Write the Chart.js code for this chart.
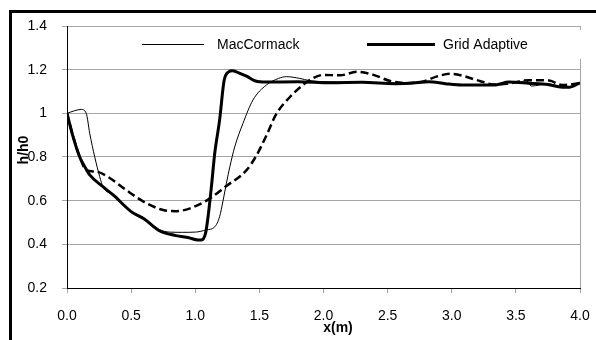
<!DOCTYPE html>
<html>
<head>
<meta charset="utf-8">
<script src="https://cdn.jsdelivr.net/npm/chart.js@4/dist/chart.umd.min.js"></script>
<style>
  html, body { margin: 0; background: #fff; }
</style>
</head>
<body>
<canvas id="chart" width="596" height="340"></canvas>
<script>
const seriesNames = ["MacCormack", "Grid Adaptive"];

const macX = [0, 0.06, 0.11, 0.15, 0.177, 0.216, 0.255, 0.28, 0.36, 0.5, 0.6, 0.72, 0.8, 0.9, 1.0, 1.087, 1.152, 1.19, 1.217, 1.243, 1.27, 1.308, 1.372, 1.45, 1.555, 1.65, 1.71, 1.815, 1.89, 2.0, 2.3, 2.56, 2.72, 2.82, 2.95, 3.08, 3.34, 3.45, 3.53, 3.58, 3.62, 3.75, 3.89, 4.0];
const macY = [1.0, 1.012, 1.018, 1.0, 0.909, 0.801, 0.71, 0.664, 0.626, 0.552, 0.52, 0.468, 0.456, 0.455, 0.456, 0.466, 0.48, 0.527, 0.6, 0.68, 0.756, 0.847, 0.954, 1.061, 1.13, 1.16, 1.168, 1.16, 1.15, 1.145, 1.142, 1.138, 1.142, 1.146, 1.137, 1.132, 1.13, 1.145, 1.142, 1.152, 1.125, 1.135, 1.118, 1.138];

const gridX = [0, 0.047, 0.099, 0.138, 0.177, 0.28, 0.36, 0.5, 0.6, 0.72, 0.85, 0.95, 1.02, 1.048, 1.08, 1.1, 1.126, 1.152, 1.19, 1.225, 1.26, 1.29, 1.33, 1.4, 1.47, 1.55, 1.8, 2.05, 2.3, 2.56, 2.72, 2.82, 2.95, 3.08, 3.34, 3.445, 3.6, 3.75, 3.86, 3.92, 4.0];
const gridY = [1.0, 0.893, 0.8, 0.756, 0.718, 0.664, 0.626, 0.55, 0.517, 0.462, 0.44, 0.43, 0.42, 0.42, 0.45, 0.527, 0.664, 0.817, 0.97, 1.15, 1.19, 1.195, 1.188, 1.17, 1.148, 1.143, 1.145, 1.14, 1.142, 1.136, 1.14, 1.145, 1.136, 1.13, 1.13, 1.143, 1.138, 1.132, 1.12, 1.12, 1.14];

// third curve (dashed), not in the legend
const dashX = [0, 0.05, 0.1, 0.15, 0.23, 0.33, 0.46, 0.62, 0.75, 0.85, 0.96, 1.1, 1.24, 1.4, 1.48, 1.56, 1.63, 1.74, 1.84, 1.92, 2.0, 2.13, 2.26, 2.39, 2.52, 2.65, 2.78, 2.88, 2.99, 3.1, 3.19, 3.34, 3.48, 3.6, 3.76, 3.86, 4.0];
const dashY = [1.0, 0.89, 0.8, 0.74, 0.733, 0.705, 0.649, 0.588, 0.557, 0.552, 0.565, 0.605, 0.666, 0.74, 0.81, 0.905, 0.995, 1.076, 1.13, 1.162, 1.176, 1.174, 1.19, 1.176, 1.148, 1.138, 1.146, 1.168, 1.181, 1.17, 1.153, 1.132, 1.14, 1.152, 1.15, 1.13, 1.138];

const xTicks = [0, 0.5, 1, 1.5, 2, 2.5, 3, 3.5, 4];
const yTicks = [0.2, 0.4, 0.6, 0.8, 1, 1.2, 1.4];

const FONT = "'Liberation Sans', Arial, sans-serif";
const GRAY = "#a6a6a6";

function pts(xs, ys) {
  return xs.map((x, i) => ({ x: x, y: ys[i] }));
}

const decor = {
  id: "decor",
  afterDraw(chart) {
    const ctx = chart.ctx;
    ctx.save();

    // outer frame (only top and left are inside the picture)
    ctx.strokeStyle = "#000";
    ctx.lineWidth = 3;
    ctx.strokeRect(10.5, 11.5, 700, 500);

    // legend box
    ctx.fillStyle = "#fff";
    ctx.fillRect(120, 30, 476, 29);
    ctx.strokeStyle = "#000";
    ctx.lineWidth = 1;
    ctx.beginPath(); ctx.moveTo(142, 44.5); ctx.lineTo(204, 44.5); ctx.stroke();
    ctx.lineWidth = 3;
    ctx.beginPath(); ctx.moveTo(367, 44.5); ctx.lineTo(435, 44.5); ctx.stroke();
    ctx.fillStyle = "#000";
    ctx.font = "14px " + FONT;
    ctx.textBaseline = "middle";
    ctx.textAlign = "left";
    ctx.fillText(seriesNames[0], 217, 45);
    ctx.fillText(seriesNames[1], 443, 45);

    // axis titles
    ctx.font = "bold 14px " + FONT;
    ctx.textAlign = "center";
    ctx.fillText("x(m)", 338, 328);
    ctx.translate(24, 150);
    ctx.rotate(-Math.PI / 2);
    ctx.fillText("h/h0", 0, 0);
    ctx.restore();
  }
};

new Chart(document.getElementById("chart"), {
  type: "line",
  data: {
    datasets: [
      {
        label: seriesNames[1],
        data: pts(gridX, gridY),
        borderColor: "#000",
        borderWidth: 3
      },
      {
        label: seriesNames[0],
        data: pts(macX, macY),
        borderColor: "#000",
        borderWidth: 1
      },
      {
        label: "",
        data: pts(dashX, dashY),
        borderColor: "#000",
        borderWidth: 2.5,
        borderDash: [8, 4]
      }
    ]
  },
  options: {
    responsive: false,
    animation: false,
    events: [],
    layout: { padding: { left: 0, top: 26, right: 16, bottom: 0 } },
    elements: {
      point: { radius: 0 },
      line: { cubicInterpolationMode: "monotone", fill: false }
    },
    plugins: { legend: { display: false }, tooltip: { enabled: false } },
    scales: {
      x: {
        type: "linear",
        min: 0,
        max: 4,
        afterFit: s => { s.height = 52; s.paddingLeft = 0; s.paddingRight = 0; },
        afterBuildTicks: s => { s.ticks = xTicks.map(v => ({ value: v })); },
        ticks: {
          color: "#000",
          font: { family: FONT, size: 14 },
          padding: 15,
          maxRotation: 0,
          callback: v => v.toFixed(1)
        },
        grid: {
          color: c => (c.tick && c.tick.value === 4 ? GRAY : "rgba(0,0,0,0)"),
          tickColor: GRAY,
          tickLength: 5
        },
        border: { color: "#000", width: 1 }
      },
      y: {
        min: 0.2,
        max: 1.4,
        afterFit: s => { s.width = 67; s.paddingTop = 0; s.paddingBottom = 0; },
        afterBuildTicks: s => { s.ticks = yTicks.map(v => ({ value: v })); },
        ticks: {
          color: "#000",
          font: { family: FONT, size: 14 },
          padding: 15,
          callback: v => String(Number(v.toFixed(1)))
        },
        grid: { color: GRAY, tickColor: GRAY, tickLength: 5 },
        border: { color: "#000", width: 1 }
      }
    }
  },
  plugins: [decor]
});
</script>
</body>
</html>
